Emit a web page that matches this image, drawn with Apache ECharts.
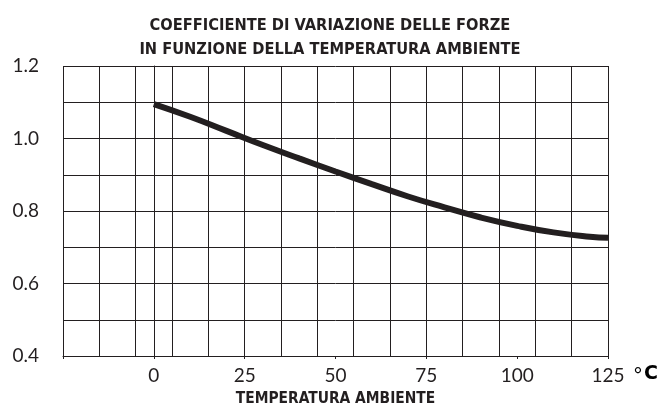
<!DOCTYPE html>
<html>
<head>
<meta charset="utf-8">
<script src="https://cdn.jsdelivr.net/npm/echarts@6/dist/echarts.min.js"></script>
<style>
  html, body { margin: 0; padding: 0; background: #fff; }
  #chart { width: 660px; height: 407px; }
</style>
</head>
<body>
<div id="chart"></div>
<script>
// temperatura ambiente (°C) e coefficiente
var temps = [0, 10, 20, 30, 40, 50, 60, 70, 80, 90, 100, 110, 120, 125];
var coeffs = [1.095, 1.060, 1.021, 0.982, 0.945, 0.909, 0.874, 0.840, 0.810, 0.782, 0.759, 0.741, 0.729, 0.726];

var titleLines = ["COEFFICIENTE DI VARIAZIONE DELLE FORZE", "IN FUNZIONE DELLA TEMPERATURA AMBIENTE"];
var xName = "TEMPERATURA AMBIENTE";

var ink = "#231f20";
var condensed = "'DejaVu Sans Condensed', 'DejaVu Sans', sans-serif";
var curve = temps.map(function (t, i) { return [t, coeffs[i]]; });

var chart = echarts.init(document.getElementById("chart"));
chart.setOption({
  animation: false,
  title: {
    text: titleLines.join("\n"),
    left: "center",
    top: 9,
    textStyle: {
      fontFamily: condensed,
      fontWeight: "bold",
      fontSize: 16.3,
      lineHeight: 24,
      color: ink
    }
  },
  grid: {
    left: 63,
    right: 52,
    top: 66,
    bottom: 51,
    containLabel: false,
    outerBoundsMode: "none"
  },
  xAxis: [
    {
      type: "value",
      min: -25,
      max: 125,
      interval: 25,
      name: xName,
      nameLocation: "middle",
      nameGap: 35,
      nameTextStyle: {
        fontFamily: condensed,
        fontWeight: "bold",
        fontSize: 15.4,
        color: ink
      },
      axisLine: { lineStyle: { color: ink, width: 1 } },
      axisTick: { show: true, length: 3, lineStyle: { color: ink } },
      axisLabel: {
        margin: 10,
        fontFamily: "Lato",
        fontSize: 19,
        color: ink,
        formatter: function (v) { return v < 0 ? "" : String(v); }
      },
      splitLine: { show: false }
    },
    {
      // griglia verticale ogni 10 °C a partire da -25
      type: "value",
      min: 0,
      max: 150,
      interval: 10,
      position: "bottom",
      axisLine: { show: false },
      axisTick: { show: false },
      axisLabel: { show: false },
      splitLine: { show: true, lineStyle: { color: ink, width: 1 } }
    }
  ],
  yAxis: {
    type: "value",
    min: 0.4,
    max: 1.2,
    interval: 0.2,
    axisLine: { show: true, lineStyle: { color: ink, width: 1 } },
    axisTick: { show: true, length: 4, lineStyle: { color: ink } },
    axisLabel: {
      margin: 24,
      fontFamily: "Lato",
      fontSize: 19,
      color: ink,
      formatter: function (v) { return v.toFixed(1); }
    },
    splitLine: { show: true, lineStyle: { color: ink, width: 1 } },
    minorTick: { show: false, splitNumber: 2 },
    minorSplitLine: { show: true, lineStyle: { color: ink, width: 1 } }
  },
  graphic: [
    {
      type: "text",
      left: 634,
      top: 365,
      style: {
        text: "{a|°}{b|C}",
        rich: {
          a: { fontFamily: "Lato", fontSize: 19, color: ink },
          b: { fontFamily: "DejaVu Sans", fontWeight: "bold", fontSize: 19, color: ink, padding: [0, 0, 0, 2] }
        }
      }
    }
  ],
  series: [
    {
      type: "line",
      xAxisIndex: 0,
      data: curve,
      smooth: true,
      symbol: "none",
      lineStyle: { color: ink, width: 6, cap: "butt" }
    }
  ]
});
</script>
</body>
</html>
